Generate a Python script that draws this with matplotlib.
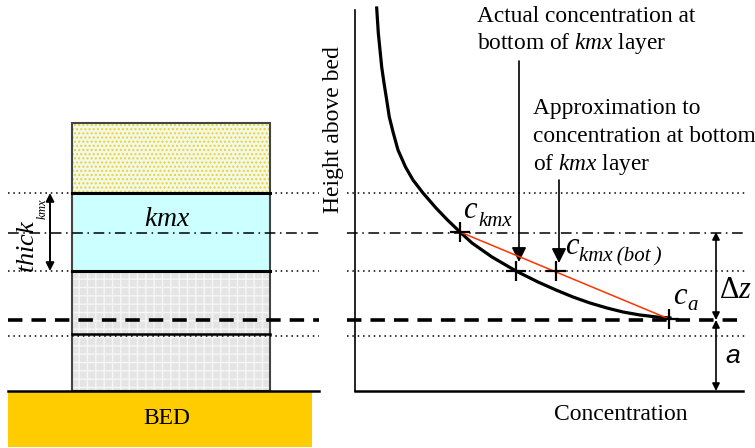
import matplotlib

matplotlib.use("Agg")
import matplotlib.pyplot as plt
from matplotlib.patches import Rectangle

plt.rcParams["font.family"] = ["Liberation Serif", "DejaVu Serif"]
plt.rcParams["mathtext.fontset"] = "custom"
plt.rcParams["mathtext.rm"] = "Liberation Serif"
plt.rcParams["mathtext.it"] = "Liberation Serif:italic"
plt.rcParams["hatch.linewidth"] = 1.0

# Layer column (left panel), heights in drawing units measured downward
box_x = [72, 270]
box_top = 123
kmx_top = 193
kmx_mid = 233
kmx_bot = 271
ref_level = 320
layer_split = 334
bed_top = 391
bed_x = [8, 312]
bed_bottom = 447

# Concentration profile (right panel)
curve_x = [376.7, 378.3, 380, 381.7, 384, 386.7, 389.3, 393.3, 398, 405.5,
           413, 423, 436, 447.5, 460, 472, 492, 516, 538, 556, 573, 590,
           607, 623, 640, 657, 670]
curve_y = [8, 33, 50, 67, 83, 100, 117, 133, 150, 167,
           180, 193, 208, 220, 232, 243, 257, 271, 282, 290, 297, 303,
           308, 312, 315, 317, 318]
c_kmx = (460, 232)
c_actual = (516, 271)
c_approx = (556, 271)
c_a = (669, 319)
axis_x = 355

fig = plt.figure(figsize=(7.55, 4.48), dpi=100)
ax = fig.add_axes([0, 0, 1, 1])
ax.set_xlim(0, 755)
ax.set_ylim(448, 0)
ax.axis("off")

# --- left panel: model layers ---
w = box_x[1] - box_x[0]
ax.add_patch(Rectangle((box_x[0], box_top), w, kmx_top - box_top,
                       facecolor="#F2FAE6", edgecolor="#E8D040",
                       hatch="....", lw=0, zorder=1))
ax.add_patch(Rectangle((box_x[0], kmx_top), w, kmx_bot - kmx_top,
                       facecolor="#CCFFFF", lw=0, zorder=1))
ax.add_patch(Rectangle((box_x[0], kmx_bot), w, bed_top - kmx_bot,
                       facecolor="#E4E4E4", edgecolor="#F6F6F6",
                       hatch="++", lw=0, zorder=1))
ax.add_patch(Rectangle((box_x[0], box_top), w, bed_top - box_top,
                       facecolor="none", edgecolor="#444444", lw=1.5, zorder=3))
for y, lw in [(kmx_top, 2.2), (kmx_bot, 2.2), (layer_split, 1.8)]:
    ax.plot(box_x, [y, y], color="black", lw=lw, zorder=4)

ax.add_patch(Rectangle((bed_x[0], bed_top), bed_x[1] - bed_x[0],
                       bed_bottom - bed_top, facecolor="#FFCC00", lw=0, zorder=1))
ax.plot([bed_x[0], 319], [bed_top, bed_top], color="black", lw=1.8, zorder=4)
ax.text(167, 418, "BED", fontsize=17, ha="center", va="center")
ax.text(167, 219, "$kmx$", fontsize=20, ha="center", va="center")

# reference lines across both panels
spans = [(8, 319), (347, 745)]
for x0, x1 in spans:
    for y in (kmx_top, kmx_bot, layer_split + 2):
        ax.plot([x0, x1], [y, y], color="black", lw=1.1,
                ls=(0, (1, 2.5)), zorder=5)
    ax.plot([x0, x1], [kmx_mid, kmx_mid], color="black", lw=1.1,
            ls=(0, (7, 3, 1, 3)), zorder=5)
    ax.plot([x0, x1], [ref_level, ref_level], color="black", lw=2.6,
            ls=(0, (4, 2.5)), zorder=5)

ax.annotate("", xy=(50, kmx_top), xytext=(50, kmx_bot),
            arrowprops=dict(arrowstyle="<|-|>", color="black", lw=1.4,
                            mutation_scale=12, shrinkA=0, shrinkB=0))
ax.text(28, 246, "$thick$", fontsize=19, rotation=90,
        ha="center", va="center")
ax.text(42, 209, "$kmx$", fontsize=9, rotation=90, ha="center", va="center")

# --- right panel: concentration profile ---
ax.plot([axis_x, axis_x], [10, bed_top], color="black", lw=1.2)
ax.plot([axis_x, 743], [bed_top, bed_top], color="black", lw=1.8)
ax.text(333, 130, "Height above bed", fontsize=17, rotation=90,
        ha="center", va="center")
ax.text(621, 414, "Concentration", fontsize=17, ha="center", va="center")

ax.plot(curve_x, curve_y, color="black", lw=2.3, zorder=6,
        solid_joinstyle="round")
ax.plot([c_kmx[0], c_a[0]], [c_kmx[1], c_a[1]], color="#FF3300",
        lw=1.1, zorder=6)
for px, py in (c_kmx, c_actual, c_approx, c_a):
    ax.plot(px, py, marker="+", color="black", ms=14, mew=1.6, zorder=7)

# concentration labels: large italic c with a lowered subscript
for (cx, cy), sub, gap in [((463, 211), "kmx", 15),
                           ((565, 247), "kmx\u2009(bot\u2009)", 14),
                           ((673, 296), "a", 14)]:
    ax.text(cx, cy, "$c$", fontsize=22, ha="left", va="center")
    ax.text(cx + gap, cy + 10, sub, fontsize=15, style="italic",
            ha="left", va="center")

ax.annotate("", xy=(519, 262), xytext=(519, 61),
            arrowprops=dict(arrowstyle="-|>", color="black", lw=1.2,
                            mutation_scale=22, shrinkA=0, shrinkB=0))
ax.annotate("", xy=(559, 263), xytext=(559, 180),
            arrowprops=dict(arrowstyle="-|>", color="black", lw=1.2,
                            mutation_scale=22, shrinkA=0, shrinkB=0))

note_size = 16.8
for y, line in [(22, "Actual concentration at"),
                (49, "bottom of $kmx$ layer")]:
    ax.text(477, y, line, fontsize=note_size, ha="left", va="baseline")
for y, line in [(114, "Approximation to"),
                (142, "concentration at bottom"),
                (170, "of $kmx$ layer")]:
    ax.text(533, y, line, fontsize=note_size, ha="left", va="baseline")

ax.annotate("", xy=(716, c_kmx[1]), xytext=(716, ref_level),
            arrowprops=dict(arrowstyle="<|-|>", color="black", lw=1.2,
                            mutation_scale=11, shrinkA=0, shrinkB=0))
ax.annotate("", xy=(716, ref_level), xytext=(716, bed_top),
            arrowprops=dict(arrowstyle="<|-|>", color="black", lw=1.2,
                            mutation_scale=11, shrinkA=0, shrinkB=0))
ax.text(719, 290, r"$\Delta z$", fontsize=22, ha="left", va="center")
ax.text(733, 356, "a", fontsize=19, ha="center", va="center",
        family="Liberation Sans", style="italic")

fig.savefig("out.png", dpi=100)
